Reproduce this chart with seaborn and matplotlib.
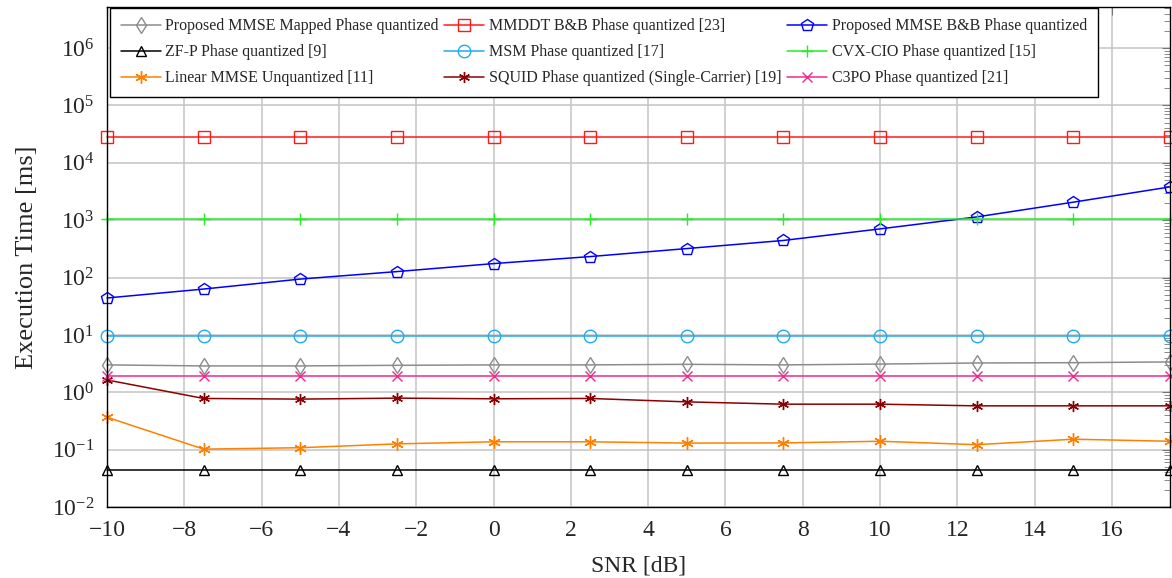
import numpy as np
import pandas as pd
import matplotlib
matplotlib.use('Agg')
import matplotlib.pyplot as plt
import seaborn as sns
from matplotlib.ticker import LogLocator, NullFormatter

# SNR points (dB)
snr = [-10, -7.5, -5, -2.5, 0, 2.5, 5, 7.5, 10, 12.5, 15, 17.5]

# execution times [ms]
mapped = [3.0, 2.88, 2.88, 2.95, 3.0, 3.0, 3.07, 3.0, 3.1, 3.24, 3.28, 3.38]
mmddt = [28500] * 12
bb = [44, 63, 94, 127, 175, 232, 320, 443, 705, 1140, 2060, 3800]
zfp = [0.045] * 12
msm = [9.6] * 12
cvx = [1050] * 12
lin_mmse = [0.367, 0.102, 0.108, 0.126, 0.137, 0.137, 0.13, 0.131, 0.14, 0.122, 0.152, 0.14]
squid = [1.64, 0.78, 0.76, 0.79, 0.77, 0.78, 0.68, 0.62, 0.62, 0.58, 0.58, 0.58]
c3po = [1.9] * 12

labels = ['Proposed MMSE Mapped Phase quantized', 'MMDDT B&B Phase quantized [23]',
          'Proposed MMSE B&B Phase quantized', 'ZF-P Phase quantized [9]',
          'MSM Phase quantized [17]', 'CVX-CIO Phase quantized [15]',
          'Linear MMSE Unquantized [11]', 'SQUID Phase quantized (Single-Carrier) [19]',
          'C3PO Phase quantized [21]']
series = [mapped, mmddt, bb, zfp, msm, cvx, lin_mmse, squid, c3po]
colors = ['#8c8c8c', '#ff1a1a', '#0000ff', '#000000', '#22aaee', '#22ee22',
          '#ff8000', '#8b0000', '#ee2a8e']
markers = ['d', 's', 'p', '^', 'o', '+', (6, 2, 0), (6, 2, 0), 'x']
msizes = [8.5, 9, 9, 7.5, 9, 9, 9, 8, 7]
open_marker = [True, True, True, True, True, False, False, False, False]

sns.set_style('white')
plt.rcParams['font.family'] = ['Liberation Serif', 'DejaVu Serif']
plt.rcParams['mathtext.fontset'] = 'stix'

fig, ax = plt.subplots(figsize=(11.72, 5.78), dpi=100)
fig.subplots_adjust(left=107/1172, right=1170/1172, top=1-7/578, bottom=1-507/578)

handles = []
for vals, lab, c, m, ms, op in zip(series, labels, colors, markers, msizes, open_marker):
    sns.lineplot(x=snr, y=vals, ax=ax, color=c, linewidth=1.1, marker=m,
                 markersize=ms,
                 markerfacecolor='none' if op else c,
                 markeredgecolor=c, markeredgewidth=1.0, label=lab, legend=False,
                 clip_on=False, zorder=3)
    handles.append(ax.lines[-1])

ax.set_yscale('log')
ax.set_xlim(-10, 17.5)
ax.set_ylim(1e-2, 5.2e6)
ax.set_xticks(np.arange(-10, 17, 2))
ax.yaxis.set_major_locator(LogLocator(base=10, numticks=20))
ax.yaxis.set_minor_locator(LogLocator(base=10, subs=np.arange(2, 10), numticks=20))
ax.yaxis.set_minor_formatter(NullFormatter())
ax.grid(True, which='major', color='#c4c4c4', linewidth=1.1)
ax.tick_params(axis='both', which='both', direction='in', top=True, right=True,
               labelsize=17, color='#777777')
ax.tick_params(axis='y', which='minor', length=4)
ax.tick_params(axis='x', which='major', length=6, pad=9)
ax.tick_params(axis='y', which='major', length=6, pad=9)
for s in ax.spines.values():
    s.set_color('black')
    s.set_linewidth(1.0)
    s.set_zorder(4)

ax.set_xlabel('SNR [dB]', fontsize=17, labelpad=11)
ax.set_ylabel('Execution Time [ms]', fontsize=19, labelpad=10)

# pgfplots fills legend row-wise, matplotlib column-wise
order = [0, 3, 6, 1, 4, 7, 2, 5, 8]
leg = ax.legend([handles[i] for i in order], [labels[i] for i in order], ncol=3,
                loc='upper left', bbox_to_anchor=(0.003, 0.998), fontsize=11.5,
                frameon=True, fancybox=False, framealpha=1, edgecolor='black',
                handlelength=2.5, columnspacing=0.35, handletextpad=0.3,
                borderpad=0.65, labelspacing=0.62, borderaxespad=0)
leg.get_frame().set_linewidth(1.0)
leg.set_zorder(5)

fig.savefig('out.png', dpi=100)
